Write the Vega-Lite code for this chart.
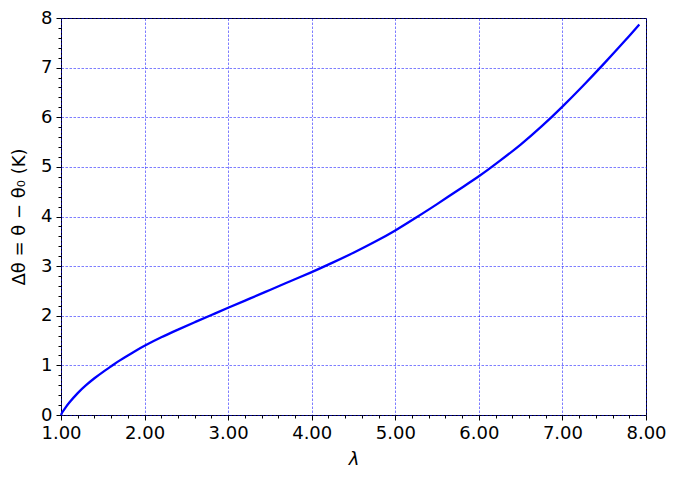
{
  "$schema": "https://vega.github.io/schema/vega-lite/v6.json",
  "width": 585,
  "height": 397,
  "autosize": {"type": "none"},
  "padding": {"left": 61, "top": 18, "right": 31, "bottom": 63},
  "background": "white",
  "data": {
    "values": [
      {"lam": 1.0, "dtheta": 0.0},
      {"lam": 1.02, "dtheta": 0.065},
      {"lam": 1.05, "dtheta": 0.14},
      {"lam": 1.1, "dtheta": 0.25},
      {"lam": 1.2, "dtheta": 0.44},
      {"lam": 1.3, "dtheta": 0.6},
      {"lam": 1.4, "dtheta": 0.74},
      {"lam": 1.5, "dtheta": 0.865},
      {"lam": 1.6, "dtheta": 0.98},
      {"lam": 1.7, "dtheta": 1.095},
      {"lam": 1.8, "dtheta": 1.2},
      {"lam": 1.9, "dtheta": 1.3},
      {"lam": 2.0, "dtheta": 1.395},
      {"lam": 2.2, "dtheta": 1.565},
      {"lam": 2.4, "dtheta": 1.72},
      {"lam": 2.6, "dtheta": 1.87},
      {"lam": 2.8, "dtheta": 2.015},
      {"lam": 3.0, "dtheta": 2.16},
      {"lam": 3.25, "dtheta": 2.34},
      {"lam": 3.5, "dtheta": 2.52},
      {"lam": 3.75, "dtheta": 2.7},
      {"lam": 4.0, "dtheta": 2.88},
      {"lam": 4.25, "dtheta": 3.07},
      {"lam": 4.5, "dtheta": 3.27},
      {"lam": 4.75, "dtheta": 3.485},
      {"lam": 5.0, "dtheta": 3.72},
      {"lam": 5.25, "dtheta": 3.98},
      {"lam": 5.5, "dtheta": 4.25},
      {"lam": 5.75, "dtheta": 4.53},
      {"lam": 6.0, "dtheta": 4.81},
      {"lam": 6.25, "dtheta": 5.12},
      {"lam": 6.5, "dtheta": 5.45},
      {"lam": 6.75, "dtheta": 5.815},
      {"lam": 7.0, "dtheta": 6.215},
      {"lam": 7.25, "dtheta": 6.64},
      {"lam": 7.5, "dtheta": 7.085},
      {"lam": 7.75, "dtheta": 7.545},
      {"lam": 7.92, "dtheta": 7.87}
    ]
  },
  "layer": [
    {
      "mark": {"type": "line", "opacity": 0},
      "encoding": {
        "x": {
          "field": "lam",
          "type": "quantitative",
          "scale": {"domain": [1, 8], "nice": false, "zero": false},
          "axis": {
            "orient": "bottom",
            "values": [1.2, 1.4, 1.6, 1.8, 2.2, 2.4, 2.6, 2.8, 3.2, 3.4, 3.6, 3.8, 4.2, 4.4, 4.6, 4.8, 5.2, 5.4, 5.6, 5.8, 6.2, 6.4, 6.6, 6.8, 7.2, 7.4, 7.6, 7.8],
            "labels": false,
            "grid": false,
            "domain": false,
            "tickSize": 3,
            "title": null
          }
        },
        "y": {
          "field": "dtheta",
          "type": "quantitative",
          "scale": {"domain": [0, 8], "nice": false},
          "axis": {
            "orient": "left",
            "values": [0.2, 0.4, 0.6, 0.8, 1.2, 1.4, 1.6, 1.8, 2.2, 2.4, 2.6, 2.8, 3.2, 3.4, 3.6, 3.8, 4.2, 4.4, 4.6, 4.8, 5.2, 5.4, 5.6, 5.8, 6.2, 6.4, 6.6, 6.8, 7.2, 7.4, 7.6, 7.8],
            "labels": false,
            "grid": false,
            "domain": false,
            "tickSize": 3,
            "title": null
          }
        }
      }
    },
    {
      "mark": {"type": "line", "color": "#0000ff", "strokeWidth": 2.3, "interpolate": "natural"},
      "encoding": {
        "x": {
          "field": "lam",
          "type": "quantitative",
          "scale": {"domain": [1, 8], "nice": false, "zero": false},
          "axis": {
            "orient": "bottom",
            "values": [1, 2, 3, 4, 5, 6, 7, 8],
            "format": ".2f",
            "grid": true,
            "title": "λ",
            "titleFontStyle": "italic",
            "titlePadding": 8
          }
        },
        "y": {
          "field": "dtheta",
          "type": "quantitative",
          "scale": {"domain": [0, 8], "nice": false},
          "axis": {
            "orient": "left",
            "values": [0, 1, 2, 3, 4, 5, 6, 7, 8],
            "format": "d",
            "grid": true,
            "title": "Δθ = θ − θ₀ (K)",
            "titlePadding": 12
          }
        }
      }
    }
  ],
  "resolve": {"axis": {"x": "independent", "y": "independent"}},
  "config": {
    "font": "DejaVu Sans",
    "view": {"stroke": "#000000", "strokeWidth": 1},
    "axis": {
      "domain": false,
      "tickColor": "#000000",
      "tickWidth": 1,
      "tickSize": 5,
      "labelFont": "DejaVu Sans",
      "labelFontSize": 18,
      "labelColor": "#000000",
      "labelPadding": 4,
      "labelFlush": false,
      "labelOverlap": false,
      "titleFont": "DejaVu Sans",
      "titleFontSize": 18,
      "titleFontWeight": "normal",
      "titleColor": "#000000",
      "gridColor": "#0000ff",
      "gridOpacity": 0.85,
      "gridWidth": 0.6,
      "gridDash": [2.5, 1.5]
    }
  }
}
